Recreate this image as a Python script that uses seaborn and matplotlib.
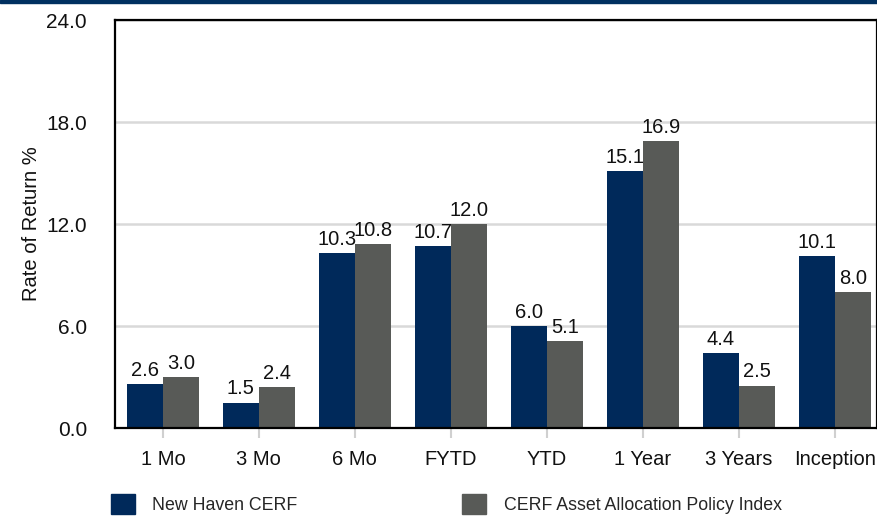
import numpy as np
import pandas as pd
import seaborn as sns
import matplotlib.pyplot as plt
from matplotlib.patches import Rectangle

periods = ['1 Mo', '3 Mo', '6 Mo', 'FYTD', 'YTD', '1 Year', '3 Years', 'Inception']
series_names = ['New Haven CERF', 'CERF Asset Allocation Policy Index']
new_haven = [2.6, 1.5, 10.3, 10.7, 6.0, 15.1, 4.4, 10.1]
policy_index = [3.0, 2.4, 10.8, 12.0, 5.1, 16.9, 2.5, 8.0]
y_ticks = [0.0, 6.0, 12.0, 18.0, 24.0]

navy = '#00295a'
grey = '#585a57'

df = pd.DataFrame({
    'Period': periods * 2,
    'Series': [series_names[0]] * len(periods) + [series_names[1]] * len(periods),
    'Return': new_haven + policy_index,
})

sns.set_theme(style='white')
plt.rcParams['font.family'] = ['Liberation Sans', 'DejaVu Sans']

fig = plt.figure(figsize=(8.77, 5.21), dpi=100)
ax = fig.add_axes([0.131, 0.1785, 0.869, 0.783])

sns.barplot(data=df, x='Period', y='Return', hue='Series', order=periods,
            hue_order=series_names, palette=[navy, grey], width=0.75,
            saturation=1, linewidth=0, ax=ax, legend=False)

for cont in ax.containers:
    ax.bar_label(cont, fmt='%.1f', padding=3, fontsize=14.5, color='#111111')

ax.set_ylim(0, 24)
ax.set_xlim(-0.5, 7.44)
ax.set_yticks(y_ticks)
ax.set_yticklabels([f'{v:.1f}' for v in y_ticks])
ax.yaxis.grid(True, color='#d9d9d9', linewidth=1.8)
ax.set_axisbelow(True)
ax.tick_params(axis='y', length=0, pad=20, labelsize=15, colors='#111111')
ax.tick_params(axis='x', length=7, width=1.5, color='#d0d0d0', pad=9,
               labelsize=14.5, labelcolor='#111111', bottom=True)
ax.set_xlabel('')
ax.set_ylabel('Rate of Return %', fontsize=14.5, color='#111111', labelpad=4)
for side in ['top', 'left', 'bottom', 'right']:
    ax.spines[side].set_visible(True)
    ax.spines[side].set_color('black')
    ax.spines[side].set_linewidth(1.6)

# legend below the chart
handles = [Rectangle((0, 0), 1, 1, color=navy), Rectangle((0, 0), 1, 1, color=grey)]
fig.legend(handles, series_names, loc='lower left', bbox_to_anchor=(0.108, -0.018),
           ncol=2, frameon=False, fontsize=12.8, handlelength=1.35, handleheight=1.35,
           handletextpad=1.0, columnspacing=9.25)

# thin navy band at top of figure
fig.add_artist(Rectangle((0, 0.994), 1, 0.006, transform=fig.transFigure,
                         color='#003060', zorder=5))

fig.savefig('out.png', dpi=100)
